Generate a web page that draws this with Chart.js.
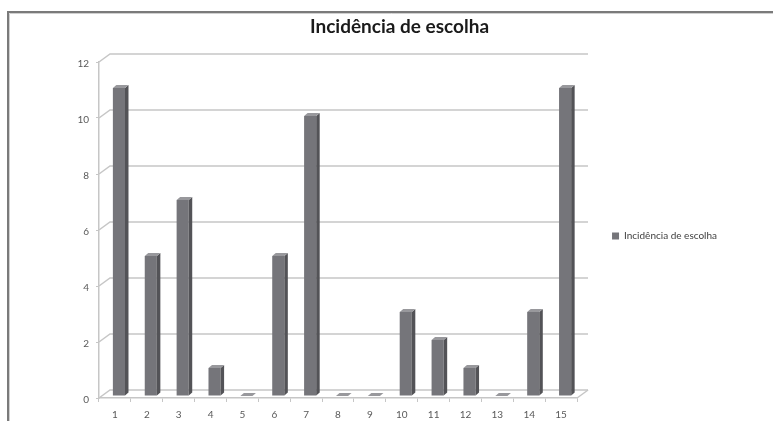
<!DOCTYPE html>
<html>
<head>
<meta charset="utf-8">
<script src="https://cdn.jsdelivr.net/npm/chart.js@4/dist/chart.umd.min.js"></script>
<style>
  html, body { margin: 0; padding: 0; background: #ffffff; }
  #wrap { width: 773px; height: 421px; position: relative; }
</style>
</head>
<body>
<div id="wrap"><canvas id="c" width="773" height="421"></canvas></div>
<script>
const chartTitle = 'Incidência de escolha';
const seriesName = 'Incidência de escolha';
const categories = ['1', '2', '3', '4', '5', '6', '7', '8', '9', '10', '11', '12', '13', '14', '15'];
const values = [11, 5, 7, 1, 0, 5, 10, 0, 0, 3, 2, 1, 0, 3, 11];
const yMin = 0;
const yMax = 12;
const yStep = 2;

const FRONT = '#75757a', SIDE = '#535357', TOP = '#98989c';
const depthX = 11, depthY = 8, barDX = 3.5, barDY = 3, shiftX = 4, shiftY = -2;

const frame = {
  id: 'frame',
  beforeDraw(chart) {
    const ctx = chart.ctx;
    ctx.save();
    ctx.fillStyle = '#ffffff';
    ctx.fillRect(0, 0, chart.width, chart.height);
    ctx.strokeStyle = '#7a7a7a';
    ctx.lineWidth = 2;
    ctx.beginPath();
    ctx.moveTo(8, chart.height);
    ctx.lineTo(8, 12);
    ctx.lineTo(chart.width, 12);
    ctx.stroke();
    ctx.strokeStyle = '#d0d0d0';
    ctx.lineWidth = 1;
    ctx.beginPath();
    ctx.moveTo(9.5, chart.height);
    ctx.lineTo(9.5, 13.5);
    ctx.lineTo(chart.width, 13.5);
    ctx.stroke();
    ctx.restore();
  }
};

const wall3d = {
  id: 'wall3d',
  beforeDatasetsDraw(chart) {
    const {ctx, chartArea: {left, right, bottom}, scales: {y}} = chart;
    ctx.save();
    ctx.strokeStyle = '#c6c6c6';
    ctx.lineWidth = 1.5;
    y.ticks.forEach(t => {
      const py = y.getPixelForValue(t.value);
      ctx.beginPath();
      ctx.moveTo(left, py);
      ctx.lineTo(left + depthX, py - depthY);
      ctx.lineTo(right + depthX, py - depthY);
      ctx.stroke();
    });
    ctx.beginPath();
    ctx.moveTo(right, bottom);
    ctx.lineTo(right + depthX, bottom - depthY);
    ctx.stroke();
    ctx.restore();
    ctx.save();
    ctx.translate(shiftX, shiftY);
  },
  afterDatasetsDraw(chart) {
    const ctx = chart.ctx;
    const meta = chart.getDatasetMeta(0);
    meta.data.forEach(bar => {
      const {x, y, base, width} = bar.getProps(['x', 'y', 'base', 'width'], true);
      const l = x - width / 2, r = x + width / 2;
      ctx.fillStyle = SIDE;
      ctx.beginPath();
      ctx.moveTo(r, y);
      ctx.lineTo(r + barDX, y - barDY);
      ctx.lineTo(r + barDX, base - barDY);
      ctx.lineTo(r, base);
      ctx.closePath();
      ctx.fill();
      ctx.fillStyle = TOP;
      ctx.beginPath();
      ctx.moveTo(l, y);
      ctx.lineTo(l + barDX, y - barDY);
      ctx.lineTo(r + barDX, y - barDY);
      ctx.lineTo(r, y);
      ctx.closePath();
      ctx.fill();
    });
    ctx.restore();
  }
};

new Chart(document.getElementById('c'), {
  type: 'bar',
  data: {
    labels: categories,
    datasets: [{
      label: seriesName,
      data: values,
      backgroundColor: FRONT,
      borderWidth: 0,
      categoryPercentage: 1,
      barPercentage: 0.38
    }]
  },
  options: {
    responsive: false,
    animation: false,
    layout: { padding: { left: 72, right: 46, top: 0, bottom: 0 } },
    plugins: {
      title: {
        display: true,
        text: chartTitle,
        color: '#1a1a1a',
        font: { family: 'Lato', size: 19, weight: 'bold' },
        padding: { top: 15, bottom: 24.2 }
      },
      legend: {
        position: 'right',
        fullSize: false,
        title: { display: true, text: ' ', padding: 0, font: { family: 'Lato', size: 10 } },
        labels: {
          boxWidth: 7,
          boxHeight: 7,
          padding: 35,
          color: '#404040',
          font: { family: 'Lato', size: 10 }
        }
      },
      tooltip: { enabled: false }
    },
    scales: {
      x: {
        afterFit(scale) { scale.height = 23; },
        offset: true,
        grid: { display: true, drawOnChartArea: false, drawTicks: true, tickLength: 4, color: '#c6c6c6', offset: true },
        border: { display: true, color: '#c6c6c6', width: 1.5 },
        ticks: { color: '#595959', font: { family: 'Lato', size: 10 }, padding: 7, maxRotation: 0 }
      },
      y: {
        min: yMin,
        max: yMax,
        afterFit(scale) { scale.width = 27; },
        grid: { display: true, drawOnChartArea: false, drawTicks: true, tickLength: 3, color: '#c6c6c6' },
        border: { display: true, color: '#c6c6c6', width: 1.5 },
        ticks: { stepSize: yStep, color: '#595959', font: { family: 'Lato', size: 10 }, padding: 7, labelOffset: 1.5 }
      }
    }
  },
  plugins: [frame, wall3d]
});
</script>
</body>
</html>
